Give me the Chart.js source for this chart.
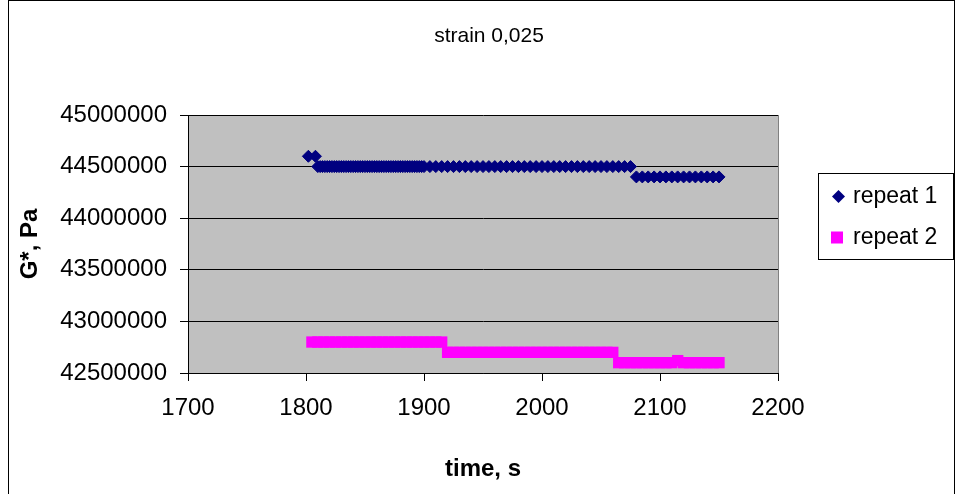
<!DOCTYPE html>
<html>
<head>
<meta charset="utf-8">
<title>strain 0,025</title>
<script src="https://cdn.jsdelivr.net/npm/chart.js@4.4.1/dist/chart.umd.min.js"></script>
<style>
  html, body { margin: 0; padding: 0; background: #fff; }
  #wrap { width: 955px; height: 494px; position: relative; }
</style>
</head>
<body>
<div id="wrap"><canvas id="gChart"></canvas></div>
<script>
// Data
const chartTitle = 'strain 0,025';
const seriesNames = ['repeat 1', 'repeat 2'];
const seriesColors = ['#000080', '#FF00FF'];

const r1Time = [
  1802, 1808,
  1810, 1812, 1814, 1816, 1818, 1820, 1822, 1824, 1826, 1828, 1830, 1832, 1834, 1836, 1838,
  1840, 1842, 1844, 1846, 1848, 1850, 1852, 1854, 1856, 1858, 1860, 1862, 1864, 1866, 1868,
  1870, 1872, 1874, 1876, 1878, 1880, 1882, 1884, 1886, 1888, 1890, 1892, 1894, 1896, 1898,
  1900, 1905, 1910, 1915, 1920, 1925, 1930, 1935, 1940, 1945, 1950, 1955, 1960, 1965, 1970,
  1975, 1980, 1985, 1990, 1995, 2000, 2005, 2010, 2015, 2020, 2025, 2030, 2035, 2040, 2045,
  2050, 2055, 2060, 2065, 2070, 2075,
  2080, 2085, 2090, 2095, 2100, 2105, 2110, 2115, 2120, 2125, 2130, 2135, 2140, 2145, 2150
];
const r1Value = [
  44600000, 44600000,
  44500000, 44500000, 44500000, 44500000, 44500000, 44500000, 44500000, 44500000, 44500000,
  44500000, 44500000, 44500000, 44500000, 44500000, 44500000, 44500000, 44500000, 44500000,
  44500000, 44500000, 44500000, 44500000, 44500000, 44500000, 44500000, 44500000, 44500000,
  44500000, 44500000, 44500000, 44500000, 44500000, 44500000, 44500000, 44500000, 44500000,
  44500000, 44500000, 44500000, 44500000, 44500000, 44500000, 44500000, 44500000, 44500000,
  44500000, 44500000, 44500000, 44500000, 44500000, 44500000, 44500000, 44500000, 44500000,
  44500000, 44500000, 44500000, 44500000, 44500000, 44500000, 44500000, 44500000, 44500000,
  44500000, 44500000, 44500000, 44500000, 44500000, 44500000, 44500000, 44500000, 44500000,
  44500000, 44500000, 44500000, 44500000, 44500000, 44500000, 44500000, 44500000, 44500000,
  44400000, 44400000, 44400000, 44400000, 44400000, 44400000, 44400000, 44400000, 44400000,
  44400000, 44400000, 44400000, 44400000, 44400000, 44400000
];

const r2Time = [
  1805, 1810, 1815, 1820, 1825, 1830, 1835, 1840, 1845, 1850, 1855, 1860, 1865, 1870, 1875,
  1880, 1885, 1890, 1895, 1900, 1905, 1910, 1915,
  1920, 1925, 1930, 1935, 1940, 1945, 1950, 1955, 1960, 1965, 1970, 1975, 1980, 1985, 1990,
  1995, 2000, 2005, 2010, 2015, 2020, 2025, 2030, 2035, 2040, 2045, 2050, 2055, 2060,
  2065, 2070, 2075, 2080, 2085, 2090, 2095, 2100, 2105, 2110, 2115, 2120, 2125, 2130, 2135,
  2140, 2145, 2150
];
const r2Value = [
  42800000, 42800000, 42800000, 42800000, 42800000, 42800000, 42800000, 42800000, 42800000,
  42800000, 42800000, 42800000, 42800000, 42800000, 42800000, 42800000, 42800000, 42800000,
  42800000, 42800000, 42800000, 42800000, 42800000,
  42700000, 42700000, 42700000, 42700000, 42700000, 42700000, 42700000, 42700000, 42700000,
  42700000, 42700000, 42700000, 42700000, 42700000, 42700000, 42700000, 42700000, 42700000,
  42700000, 42700000, 42700000, 42700000, 42700000, 42700000, 42700000, 42700000, 42700000,
  42700000, 42700000,
  42600000, 42600000, 42600000, 42600000, 42600000, 42600000, 42600000, 42600000, 42600000,
  42600000, 42620000, 42600000, 42600000, 42600000, 42600000, 42600000, 42600000, 42600000
];

const xTicks = [1700, 1800, 1900, 2000, 2100, 2200];
const yTicks = [42500000, 43000000, 43500000, 44000000, 44500000, 45000000];

const FONT = "'Liberation Sans', Arial, sans-serif";

// grey plot area, outer frame, centred title and the boxed legend on the right
const excelLook = {
    id: 'excelLook',
    beforeDraw(chart) {
        const { ctx, chartArea: a } = chart;
        ctx.save();
        ctx.fillStyle = '#C0C0C0';
        ctx.fillRect(a.left, a.top, a.right - a.left, a.bottom - a.top);
        ctx.restore();
    },
    afterDraw(chart) {
        const { ctx, chartArea: a } = chart;
        ctx.save();
        ctx.lineWidth = 1;

        ctx.strokeStyle = '#808080';
        ctx.beginPath();
        ctx.moveTo(Math.round(a.right) + 0.5, a.top);
        ctx.lineTo(Math.round(a.right) + 0.5, a.bottom);
        ctx.stroke();

        ctx.strokeStyle = '#000';
        ctx.strokeRect(8.5, 0.5, 946, 520);

        // title
        ctx.fillStyle = '#000';
        ctx.font = '21px ' + FONT;
        ctx.textAlign = 'center';
        ctx.textBaseline = 'middle';
        ctx.fillText(chartTitle, 489, 36);

        // legend
        ctx.fillStyle = '#fff';
        ctx.fillRect(818.5, 173.5, 135, 86);
        ctx.strokeRect(818.5, 173.5, 135, 86);

        const ds = chart.data.datasets;
        ctx.fillStyle = ds[0].backgroundColor;
        ctx.beginPath();
        ctx.moveTo(832, 196.5);
        ctx.lineTo(838.5, 190);
        ctx.lineTo(845, 196.5);
        ctx.lineTo(838.5, 203);
        ctx.closePath();
        ctx.fill();

        ctx.fillStyle = ds[1].backgroundColor;
        ctx.fillRect(831, 231.5, 12, 12);

        ctx.fillStyle = '#000';
        ctx.font = '23px ' + FONT;
        ctx.textBaseline = 'alphabetic';
        ctx.textAlign = 'left';
        ctx.fillText(ds[0].label, 853, 203);
        ctx.fillText(ds[1].label, 853, 244);
        ctx.restore();
    }
};

new Chart(document.getElementById('gChart'), {
    type: 'scatter',
    data: {
        datasets: [
            {
                label: seriesNames[0],
                data: r1Time.map((t, i) => ({ x: t, y: r1Value[i] })),
                pointStyle: 'rectRot',
                pointRadius: 6,
                pointBorderWidth: 1,
                backgroundColor: seriesColors[0],
                borderColor: seriesColors[0]
            },
            {
                label: seriesNames[1],
                data: r2Time.map((t, i) => ({ x: t, y: r2Value[i] })),
                pointStyle: 'rect',
                pointRadius: 8,
                pointBorderWidth: 0,
                backgroundColor: seriesColors[1],
                borderColor: seriesColors[1]
            }
        ]
    },
    options: {
        responsive: true,
        maintainAspectRatio: false,
        animation: false,
        events: [],
        layout: { padding: { left: 8, right: 177, top: 115, bottom: 0 } },
        plugins: {
            legend: { display: false },
            tooltip: { enabled: false },
            title: { display: false }
        },
        scales: {
            x: {
                type: 'linear',
                min: xTicks[0],
                max: xTicks[xTicks.length - 1],
                afterBuildTicks: s => { s.ticks = xTicks.map(v => ({ value: v })); },
                afterFit: s => { s.height = 121; },
                grid: { drawOnChartArea: false, drawTicks: true, tickLength: 8, color: '#000', tickColor: '#000' },
                border: { display: true, color: '#000', width: 1 },
                ticks: {
                    color: '#000',
                    font: { family: FONT, size: 24 },
                    padding: 13,
                    maxRotation: 0,
                    callback: v => String(v)
                },
                title: {
                    display: true,
                    text: 'time, s',
                    color: '#000',
                    font: { family: FONT, size: 24, weight: 'bold' },
                    padding: { top: 0, bottom: 10 }
                }
            },
            y: {
                type: 'linear',
                min: yTicks[0],
                max: yTicks[yTicks.length - 1],
                afterBuildTicks: s => { s.ticks = yTicks.map(v => ({ value: v })); },
                afterFit: s => { s.width = 180; },
                grid: { drawOnChartArea: true, drawTicks: true, tickLength: 8, color: '#000', tickColor: '#000' },
                border: { display: true, color: '#000', width: 1 },
                ticks: {
                    color: '#000',
                    font: { family: FONT, size: 24 },
                    padding: 13,
                    callback: v => String(v)
                },
                title: {
                    display: true,
                    text: 'G*, Pa',
                    color: '#000',
                    font: { family: FONT, size: 24, weight: 'bold' },
                    padding: { top: 8, bottom: 0 }
                }
            }
        }
    },
    plugins: [excelLook]
});
</script>
</body>
</html>
